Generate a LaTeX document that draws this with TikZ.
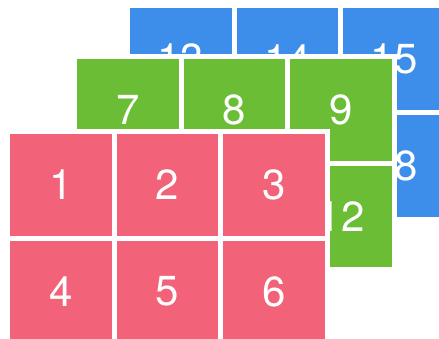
\documentclass[tikz,border=0pt]{standalone}
\usepackage{fontspec}
\setmainfont{TeX Gyre Heros}
\definecolor{gBlue}{RGB}{61,142,234}
\definecolor{gGreen}{RGB}{107,189,54}
\definecolor{gRed}{RGB}{242,98,120}

\begin{document}
\begin{tikzpicture}[
			x=1pt,y=-1pt,
			cellbox/.style={
				minimum width=101.7pt,
				minimum height=101.7pt,
				inner sep=0pt,
				text=white,
				font=\fontsize{42}{42}\selectfont
			},
			layerback/.style={
				fill=white
			}
			]
			\useasboundingbox (0,0) rectangle (439,338);
			\clip (0,0) rectangle (439,338);
			\fill[layerback] (125,3.3) rectangle (450,221.7);
			\node[cellbox,fill=gBlue] (c13) at (180.85,59.15) {13};
			\node[cellbox,fill=gBlue] (c14) at (287.55,59.15) {14};
			\node[cellbox,fill=gBlue] (c15) at (394.25,59.15) {15};
			\node[cellbox,fill=gBlue] (c16) at (180.85,165.85) {16};
			\node[cellbox,fill=gBlue] (c17) at (287.55,165.85) {17};
			\node[cellbox,fill=gBlue] (c18) at (394.25,165.85) {18};
			\fill[layerback] (72,54) rectangle (397,272.4);
			\node[cellbox,fill=gGreen] (c7) at (127.85,109.85) {7};
			\node[cellbox,fill=gGreen] (c8) at (234.55,109.85) {8};
			\node[cellbox,fill=gGreen] (c9) at (341.25,109.85) {9};
			\node[cellbox,fill=gGreen] (c10) at (127.85,216.55) {10};
			\node[cellbox,fill=gGreen] (c11) at (234.55,216.55) {11};
			\node[cellbox,fill=gGreen] (c12) at (341.25,216.55) {12};
			\fill[layerback] (5,129) rectangle (330,347.4);
			\node[cellbox,fill=gRed] (c1) at (60.85,184.85) {1};
			\node[cellbox,fill=gRed] (c2) at (167.55,184.85) {2};
			\node[cellbox,fill=gRed] (c3) at (274.25,184.85) {3};
			\node[cellbox,fill=gRed] (c4) at (60.85,291.55) {4};
			\node[cellbox,fill=gRed] (c5) at (167.55,291.55) {5};
			\node[cellbox,fill=gRed] (c6) at (274.25,291.55) {6};
		\end{tikzpicture}
\end{document}
